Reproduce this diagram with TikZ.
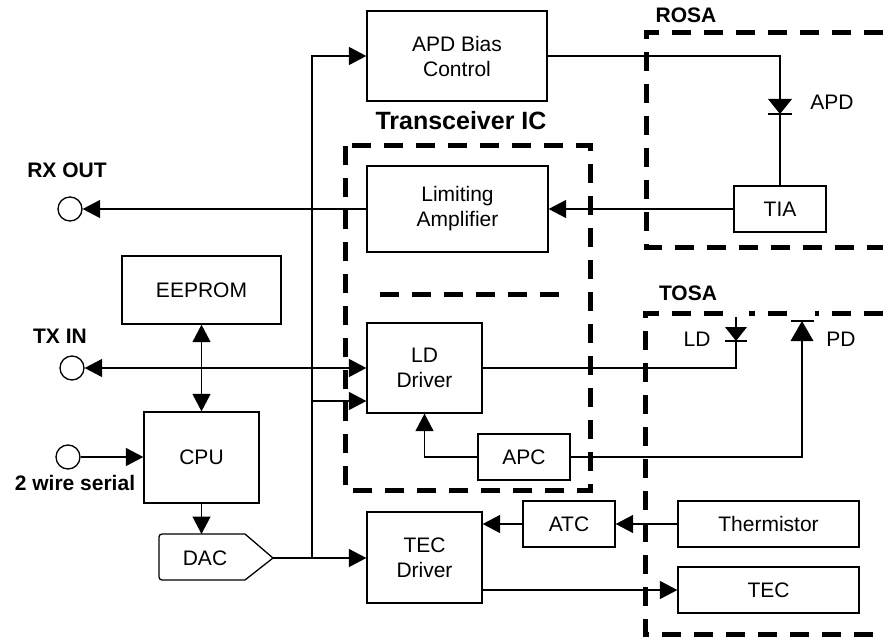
\documentclass[tikz,border=0pt]{standalone}
\usepackage{fontspec}
\setmainfont{Liberation Sans}
\usetikzlibrary{arrows.meta}
\begin{document}
\begin{tikzpicture}[x=1pt,y=-1pt,
  box/.style={draw, line width=1.3pt, inner sep=0pt, align=center, font=\fontsize{21}{25}\selectfont},
  wire/.style={line width=1.3pt},
  arr/.style={wire, -{Triangle[length=17.5pt,width=18pt]}},
  dbl/.style={wire, {Triangle[length=17.5pt,width=18pt]}-{Triangle[length=17.5pt,width=18pt]}},
  border/.style={line width=5pt, dash pattern=on 19pt off 13pt},
  lbl/.style={font=\fontsize{21}{25}\selectfont\bfseries, anchor=base, inner sep=0pt},
  plain/.style={font=\fontsize{21}{25}\selectfont, anchor=base, inner sep=0pt},
  port/.style={circle, draw, line width=1.3pt, minimum size=24pt, inner sep=0pt},
]
\useasboundingbox (0,0) rectangle (883,639);

% dashed module borders
\draw[border] (345,146) rectangle (590,490);
\draw[border] (380,294) -- (560,294);
\draw[border] (883,33) -- (646,33) -- (646,247) -- (883,247);
\draw[border] (883,313) -- (645,313) -- (645,634) -- (883,634);
% gaps in the TOSA border where the diodes sit
\fill[white] (723,307) rectangle (749,319);
\fill[white] (789,307) rectangle (815,319);

% blocks
\node[box, minimum width=180pt, minimum height=90pt] (apdb) at (457,56) {APD Bias\\Control};
\node[box, minimum width=181pt, minimum height=86pt] (lim) at (457.5,209) {Limiting\\Amplifier};
\node[box, minimum width=115pt, minimum height=90pt] (ldd) at (424.5,368) {LD\\Driver};
\node[box, minimum width=92pt, minimum height=46pt] (apc) at (524,457) {APC};
\node[box, minimum width=115pt, minimum height=91pt] (tecd) at (424.5,557.5) {TEC\\Driver};
\node[box, minimum width=92pt, minimum height=46pt] (atc) at (569,524) {ATC};
\node[box, minimum width=181pt, minimum height=46pt] (therm) at (768.5,524) {Thermistor};
\node[box, minimum width=181pt, minimum height=46pt] (tec) at (768.5,590) {TEC};
\node[box, minimum width=92pt, minimum height=46pt] (tia) at (780,209) {TIA};
\node[box, minimum width=159pt, minimum height=68pt] (eeprom) at (201.5,290) {EEPROM};
\node[box, minimum width=115pt, minimum height=91pt] (cpu) at (201.5,457.5) {CPU};

% DAC
\coordinate (dactop) at (201.5,534);
\coordinate (dactip) at (273,558);
\draw[wire, rounded corners=3pt] (245,534) -- (159,534) -- (159,580) -- (245,580);
\draw[wire] (245,580) -- (dactip) -- (245,534);
\node[plain, anchor=center, font=\fontsize{21}{25}\selectfont] (dac) at (205,558) {DAC};

% ports
\node[port] (rx) at (70,209) {};
\node[port] (tx) at (72,368) {};
\node[port] (ser) at (68,457) {};

% labels
\node[lbl] (rosa) at (686,23) {ROSA};
\node[lbl] (tosa) at (688,300) {TOSA};
\node[lbl, font=\fontsize{25}{30}\selectfont\bfseries] (tic) at (461,130) {Transceiver IC};
\node[lbl] (rxl) at (67,178) {RX OUT};
\node[lbl] (txl) at (60,343) {TX IN};
\node[lbl] (serl) at (75,490) {2 wire serial};
\node[plain] (apdl) at (832,110) {APD};
\node[plain] (ldl) at (697,346) {LD};
\node[plain] (pdl) at (841,346) {PD};

% connectors
\draw[arr] (lim.west) -- (rx.east);
\draw[dbl] (tx.east) -- (ldd.west);
\draw[arr] (ser.east) -- (ser.east -| cpu.west);
\draw[dbl] (eeprom.south) -- (cpu.north);
\draw[arr] (cpu.south) -- (dactop);
\coordinate (j) at (312,558);
\draw[wire] (dactip) -- (j);
\draw[arr] (j) -- (j -| tecd.west);
\draw[arr] (j) -- (j |- apdb.west) -- (apdb.west);
\coordinate (j2) at (312,401);
\draw[arr] (j2) -- (j2 -| ldd.west);
\draw[arr] (tia.west) -- (lim.east);

% APD diode
\coordinate (apdtop) at (780,99);
\coordinate (apdbot) at (780,114);
\draw[wire] (apdb.east) -| (apdtop);
\fill (apdtop) ++(-12,0) -- ++(24,0) -- (apdbot) -- cycle;
\draw[wire] (apdbot) ++(-12,0) -- ++(24,0);
\draw[wire] (apdbot) -- (tia.north);

% LD diode
\coordinate (ldtop) at (736,327);
\coordinate (ldbot) at (736,341);
\draw[wire] (ldd.east) -| (ldbot);
\fill (ldtop) ++(-11,0) -- ++(22,0) -- (ldbot) -- cycle;
\draw[wire] (ldbot) ++(-11,0) -- ++(22,0);
\draw[wire] (ldtop) -- ++(0,-10);

% PD diode
\coordinate (pdtop) at (802,321);
\coordinate (pdbot) at (802,341);
\draw[wire] (apc.east) -| (pdbot);
\fill (pdbot) ++(-11.5,0) -- ++(23,0) -- (pdtop) -- cycle;
\draw[wire] (pdtop) ++(-11.5,0) -- ++(23,0);

\draw[arr] (apc.west) -| (ldd.south);
\draw[arr] (therm.west) -- (atc.east);
\draw[arr] (atc.west) -- (atc.west -| tecd.east);
\draw[arr] (tecd.east |- tec.west) -- (tec.west);
\end{tikzpicture}
\end{document}
